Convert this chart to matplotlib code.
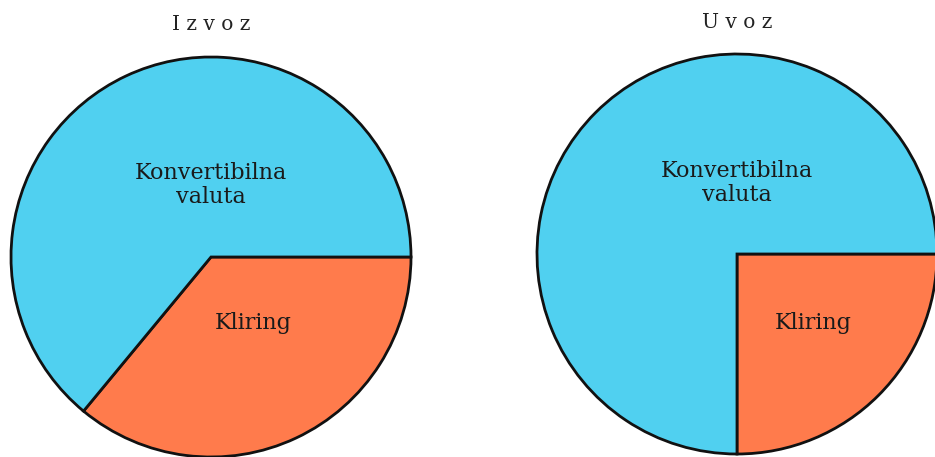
import matplotlib
matplotlib.use("Agg")
import matplotlib.pyplot as plt

categories = ["Kliring", "Konvertibilna\nvaluta"]
izvoz_values = [36, 64]
uvoz_values = [25, 75]
titles = ["I z v o z", "U v o z"]

colors = ["#FF7B4C", "#50D0F0"]

W, H = 935, 457
fig = plt.figure(figsize=(W / 100, H / 100), dpi=100)
fig.patch.set_facecolor("white")

R = 200
panels = [
    dict(cx=211, cy=257, values=izvoz_values, title=titles[0], ty=25,
         lab_pos=[(0.21, -0.33), (0.0, 0.36)]),
    dict(cx=737, cy=254, values=uvoz_values, title=titles[1], ty=22,
         lab_pos=[(0.38, -0.345), (0.0, 0.355)]),
]

font = "DejaVu Serif"
for p in panels:
    ax = fig.add_axes([(p["cx"] - R) / W, (H - p["cy"] - R) / H, 2 * R / W, 2 * R / H])
    ax.pie(p["values"], colors=colors, startangle=0, counterclock=False,
           radius=1.0, wedgeprops=dict(edgecolor="#111111", linewidth=2.0))
    ax.set_xlim(-1, 1)
    ax.set_ylim(-1, 1)
    ax.set_aspect("equal")
    ax.axis("off")
    for cat, (x, y) in zip(categories, p["lab_pos"]):
        ax.text(x, y, cat, ha="center", va="center", fontsize=16,
                family=font, color="#1a1a1a", linespacing=1.15)
    fig.text(p["cx"] / W, 1 - p["ty"] / H, p["title"], ha="center", va="center",
             fontsize=14.5, family=font, color="#222222")

fig.savefig("out.png", dpi=100, facecolor="white")
